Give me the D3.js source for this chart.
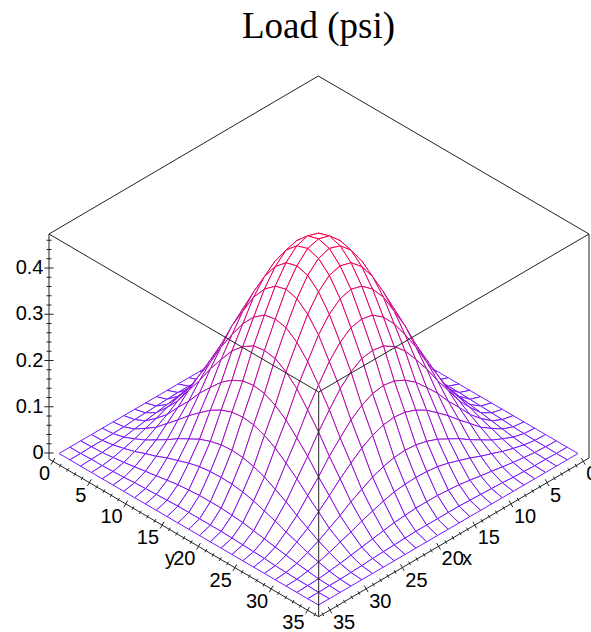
<!DOCTYPE html>
<html>
<head>
<meta charset="utf-8">
<script src="https://cdn.jsdelivr.net/npm/d3@7"></script>
<style>
    body { margin: 0; background: #fff; }
    svg { display: block; }
</style>
</head>
<body>
<div id="chart"></div>
<script>
/* DATA */
const title = "Load (psi)";
const gridX = [0, 1.47, 2.94, 4.42, 5.89, 7.36, 8.83, 10.31, 11.78, 13.25, 14.72, 16.19, 17.67, 19.14, 20.61, 22.08, 23.55, 25.03, 26.5, 27.97, 29.44, 30.92, 32.39, 33.86, 35.33];
const gridY = [0, 1.47, 2.94, 4.42, 5.89, 7.36, 8.83, 10.31, 11.78, 13.25, 14.72, 16.19, 17.67, 19.14, 20.61, 22.08, 23.55, 25.03, 26.5, 27.97, 29.44, 30.92, 32.39, 33.86, 35.33];
// load at each gridX (rows) / gridY (columns)
const load = [
    [0, 0, 0, 0, 0, 0, 0, 0, 0, 0, 0, 0, 0, 0, 0, 0, 0, 0, 0, 0, 0, 0, 0, 0, 0],
    [0, 0, .001, .001, .002, .003, .005, .006, .007, .008, .009, .009, .009, .009, .009, .008, .007, .006, .005, .003, .002, .001, .001, 0, 0],
    [0, .001, .002, .005, .008, .012, .016, .020, .024, .028, .030, .032, .032, .032, .030, .028, .024, .020, .016, .012, .008, .005, .002, .001, 0],
    [0, .001, .005, .011, .018, .027, .035, .045, .053, .061, .067, .070, .071, .070, .067, .061, .053, .045, .035, .027, .018, .011, .005, .001, 0],
    [0, .002, .008, .018, .029, .043, .057, .073, .086, .099, .108, .114, .116, .114, .108, .099, .086, .073, .057, .043, .029, .018, .008, .002, 0],
    [0, .003, .012, .027, .043, .065, .086, .109, .129, .148, .162, .171, .174, .171, .162, .148, .129, .109, .086, .065, .043, .027, .012, .003, 0],
    [0, .005, .016, .035, .057, .086, .113, .144, .170, .195, .213, .225, .229, .225, .213, .195, .170, .144, .113, .086, .057, .035, .016, .005, 0],
    [0, .006, .020, .045, .073, .109, .144, .183, .217, .249, .272, .287, .291, .287, .272, .249, .217, .183, .144, .109, .073, .045, .020, .006, 0],
    [0, .007, .024, .053, .086, .129, .170, .217, .257, .294, .322, .340, .345, .340, .322, .294, .257, .217, .170, .129, .086, .053, .024, .007, 0],
    [0, .008, .028, .061, .099, .148, .195, .249, .294, .338, .369, .389, .396, .389, .369, .338, .294, .249, .195, .148, .099, .061, .028, .008, 0],
    [0, .009, .030, .067, .108, .162, .213, .272, .322, .369, .404, .426, .433, .426, .404, .369, .322, .272, .213, .162, .108, .067, .030, .009, 0],
    [0, .009, .032, .070, .114, .171, .225, .287, .340, .389, .426, .449, .457, .449, .426, .389, .340, .287, .225, .171, .114, .070, .032, .009, 0],
    [0, .009, .032, .071, .116, .174, .229, .291, .345, .396, .433, .457, .464, .457, .433, .396, .345, .291, .229, .174, .116, .071, .032, .009, 0],
    [0, .009, .032, .070, .114, .171, .225, .287, .340, .389, .426, .449, .457, .449, .426, .389, .340, .287, .225, .171, .114, .070, .032, .009, 0],
    [0, .009, .030, .067, .108, .162, .213, .272, .322, .369, .404, .426, .433, .426, .404, .369, .322, .272, .213, .162, .108, .067, .030, .009, 0],
    [0, .008, .028, .061, .099, .148, .195, .249, .294, .338, .369, .389, .396, .389, .369, .338, .294, .249, .195, .148, .099, .061, .028, .008, 0],
    [0, .007, .024, .053, .086, .129, .170, .217, .257, .294, .322, .340, .345, .340, .322, .294, .257, .217, .170, .129, .086, .053, .024, .007, 0],
    [0, .006, .020, .045, .073, .109, .144, .183, .217, .249, .272, .287, .291, .287, .272, .249, .217, .183, .144, .109, .073, .045, .020, .006, 0],
    [0, .005, .016, .035, .057, .086, .113, .144, .170, .195, .213, .225, .229, .225, .213, .195, .170, .144, .113, .086, .057, .035, .016, .005, 0],
    [0, .003, .012, .027, .043, .065, .086, .109, .129, .148, .162, .171, .174, .171, .162, .148, .129, .109, .086, .065, .043, .027, .012, .003, 0],
    [0, .002, .008, .018, .029, .043, .057, .073, .086, .099, .108, .114, .116, .114, .108, .099, .086, .073, .057, .043, .029, .018, .008, .002, 0],
    [0, .001, .005, .011, .018, .027, .035, .045, .053, .061, .067, .070, .071, .070, .067, .061, .053, .045, .035, .027, .018, .011, .005, .001, 0],
    [0, .001, .002, .005, .008, .012, .016, .020, .024, .028, .030, .032, .032, .032, .030, .028, .024, .020, .016, .012, .008, .005, .002, .001, 0],
    [0, 0, .001, .001, .002, .003, .005, .006, .007, .008, .009, .009, .009, .009, .009, .008, .007, .006, .005, .003, .002, .001, .001, 0, 0],
    [0, 0, 0, 0, 0, 0, 0, 0, 0, 0, 0, 0, 0, 0, 0, 0, 0, 0, 0, 0, 0, 0, 0, 0, 0]
];
const planTicks = [0, 5, 10, 15, 20, 25, 30, 35];
const planMinorTicks = [1, 2, 3, 4, 6, 7, 8, 9, 11, 12, 13, 14, 16, 17, 18, 19, 21, 22, 23, 24, 26, 27, 28, 29, 31, 32, 33, 34, 36];
const zTicks = [0, 0.1, 0.2, 0.3, 0.4];
const zMinorTicks = [0.02, 0.04, 0.06, 0.08, 0.12, 0.14, 0.16, 0.18, 0.22, 0.24, 0.26, 0.28, 0.32, 0.34, 0.36, 0.38, 0.42, 0.44, 0.46];

/* CONSTANTS */
const width = 591;
const height = 632;
const backX = 318.5;    // back corner of the mesh on screen
const backY = 302;

const svg = d3.select("#chart")
    .append("svg")
    .attr("width", width)
    .attr("height", height)
    .style("font-family", "'Liberation Sans', Arial, sans-serif");

/* SCALES */
// going along x moves down-left on screen, along y moves down-right
const xToLeft = d3.scaleLinear().domain([0, 35.33]).range([0, -259.5]);
const xToDown = d3.scaleLinear().domain([0, 35.33]).range([0, 151.5]);
const yToRight = d3.scaleLinear().domain([0, 35.33]).range([0, 259.5]);
const yToDown = d3.scaleLinear().domain([0, 35.33]).range([0, 151.5]);
const zToUp = d3.scaleLinear().domain([0, 0.4]).range([0, 185]);
const color = d3.scaleLinear().domain([0, 0.464]).range(["#7418ff", "#ff0048"]);

// axis scales, the drawn axes sit a bit off the mesh
const yAxisX = d3.scaleLinear().domain([0, 35]).range([53, 307.6]);
const xAxisX = d3.scaleLinear().domain([0, 35]).range([583.3, 330]);
const yAxisSlope = d3.scaleLinear().domain([49, 318.7]).range([459, 616.7]);
const xAxisSlope = d3.scaleLinear().domain([589, 318.7]).range([458, 616.7]);
const zAxisY = d3.scaleLinear().domain([0, 0.4]).range([453, 268]);

function project(i, j) {
    return [
        backX + xToLeft(gridX[i]) + yToRight(gridY[j]),
        backY + xToDown(gridX[i]) + yToDown(gridY[j]) - zToUp(load[i][j])
    ];
}

/* MESH - patches back to front so the hill hides what is behind it */
const patches = [];
gridX.slice(1).forEach((_, i) => {
    gridY.slice(1).forEach((_, j) => {
        patches.push({ i, j });
    });
});
patches.sort((a, b) => (a.i + a.j) - (b.i + b.j));

const meshLine = d3.line();
const mesh = svg.append("g").attr("class", "mesh");

patches.forEach(({ i, j }) => {
    const corners = [[i, j], [i + 1, j], [i + 1, j + 1], [i, j + 1]];
    mesh.append("path")
        .attr("d", meshLine(corners.map(c => project(c[0], c[1]))) + "Z")
        .attr("fill", "#fff");
    corners.forEach((c, n) => {
        const next = corners[(n + 1) % 4];
        mesh.append("path")
            .attr("d", meshLine([project(c[0], c[1]), project(next[0], next[1])]))
            .attr("fill", "none")
            .attr("stroke", color((load[c[0]][c[1]] + load[next[0]][next[1]]) / 2))
            .attr("stroke-width", 1);
    });
});

/* BOX */
const boxLines = [
    [[49, 234], [318.3, 76]],
    [[318.3, 76], [589, 234]],
    [[589, 234], [318.7, 392]],
    [[318.7, 392], [49, 234]],
    [[49, 234], [49, 459]],
    [[589, 234], [589, 458]],
    [[318.7, 392], [318.7, 616.7]],
    [[49, 459], [318.7, 616.7]],
    [[589, 458], [318.7, 616.7]]
];
svg.append("g").selectAll("path")
    .data(boxLines)
    .join("path")
    .attr("d", d => meshLine(d))
    .attr("fill", "none")
    .attr("stroke", "#222")
    .attr("stroke-width", 1);

/* TICKS */
const ticks = svg.append("g").attr("stroke", "#222").attr("stroke-width", 1);

function planTick(t, major) {
    const len = major ? 3.8 : 2;
    // y axis side
    const yx = yAxisX(t), yy = yAxisSlope(yx);
    ticks.append("line")
        .attr("x1", yx - len * 0.5).attr("y1", yy + len * 0.86)
        .attr("x2", yx + len * 0.5).attr("y2", yy - len * 0.86);
    // x axis side
    const xx = xAxisX(t), xy = xAxisSlope(xx);
    ticks.append("line")
        .attr("x1", xx + len * 0.5).attr("y1", xy + len * 0.86)
        .attr("x2", xx - len * 0.5).attr("y2", xy - len * 0.86);
}
planTicks.forEach(t => planTick(t, true));
planMinorTicks.forEach(t => planTick(t, false));

zTicks.forEach(t => {
    ticks.append("line")
        .attr("x1", 44.3).attr("x2", 53.5)
        .attr("y1", zAxisY(t)).attr("y2", zAxisY(t));
});
zMinorTicks.forEach(t => {
    ticks.append("line")
        .attr("x1", 46.5).attr("x2", 51.5)
        .attr("y1", zAxisY(t)).attr("y2", zAxisY(t));
});

/* LABELS */
const labels = svg.append("g").attr("font-size", "20px").attr("fill", "#000");

labels.selectAll(".zlabel")
    .data(zTicks)
    .join("text")
    .attr("class", "zlabel")
    .attr("x", 43.5)
    .attr("y", d => zAxisY(d) + 6)
    .attr("text-anchor", "end")
    .text(d => d);

labels.selectAll(".ylabel")
    .data(planTicks)
    .join("text")
    .attr("class", "ylabel")
    .attr("x", d => yAxisX(d) - 3)
    .attr("y", d => yAxisSlope(yAxisX(d)) + 19)
    .attr("text-anchor", "end")
    .text(d => d);

labels.selectAll(".xlabel")
    .data(planTicks)
    .join("text")
    .attr("class", "xlabel")
    .attr("x", d => xAxisX(d) + 3)
    .attr("y", d => xAxisSlope(xAxisX(d)) + 19)
    .text(d => d);

// axis names, they touch the 20 labels in the reference too
labels.append("text").attr("x", 170).attr("y", 565).attr("text-anchor", "middle").text("y");
labels.append("text").attr("x", 467).attr("y", 565).attr("text-anchor", "middle").text("x");

/* TITLE */
svg.append("text")
    .attr("x", 318.5)
    .attr("y", 38)
    .attr("text-anchor", "middle")
    .style("font-family", "'Liberation Serif', 'Times New Roman', serif")
    .style("font-size", "37px")
    .text(title);
</script>
</body>
</html>
